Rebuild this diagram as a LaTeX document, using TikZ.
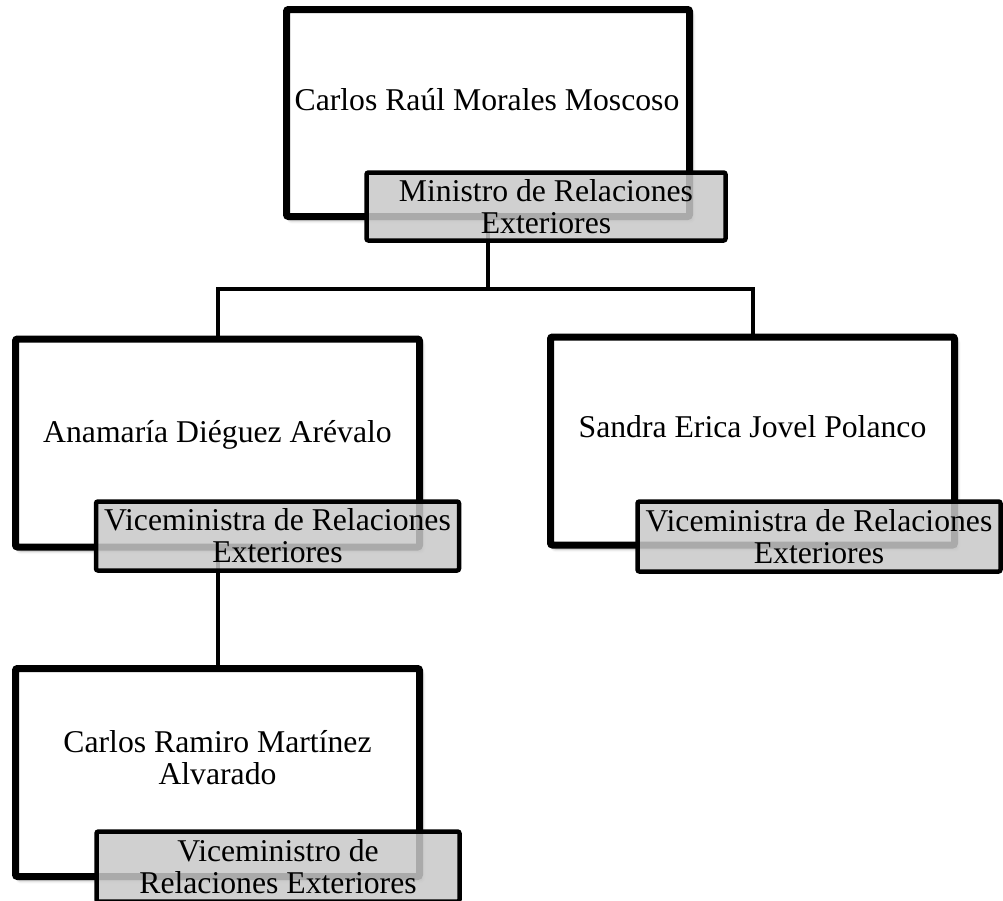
\documentclass[tikz,border=0pt]{standalone}
\usepackage{fontspec}
\setmainfont{Liberation Serif}
\usetikzlibrary{backgrounds,shadows.blur}
\definecolor{lblgray}{RGB}{200,200,200}
\begin{document}
\begin{tikzpicture}[x=1pt,y=-1pt,
  personbox/.style={draw=black, line width=7pt, fill=white, rounded corners=2pt,
    inner sep=0pt, minimum width=404pt, minimum height=208pt,
    blur shadow={shadow xshift=3pt, shadow yshift=-4pt, shadow blur radius=3pt, shadow opacity=35}},
  titlebox/.style={draw=black, line width=4.5pt, fill=lblgray, fill opacity=0.85, text opacity=1,
    rounded corners=2pt, inner sep=0pt, minimum width=363pt, minimum height=69pt,
    align=center, font=\fontsize{31.7}{32}\selectfont},
  nametext/.style={font=\fontsize{31.7}{32}\selectfont, align=center, inner sep=0pt},
  conn/.style={draw=black, line width=4pt}]
\useasboundingbox (0,0) rectangle (1003,900);
% person boxes
\node[personbox, minimum width=403pt, minimum height=207pt] (top) at (488,113) {};
\node[personbox] (left) at (217.5,443) {};
\node[personbox] (right) at (752.5,441) {};
\node[personbox] (bottom) at (217.5,772.5) {};
% names
\node[nametext, anchor=base] (ntop) at (487,110) {Carlos Raúl Morales Moscoso};
\node[nametext, anchor=base] (nleft) at (217.5,442) {Anamaría Diéguez Arévalo};
\node[nametext, anchor=base] (nright) at (752.5,437) {Sandra Erica Jovel Polanco};
\node[nametext] (nbottom) at (217.5,758) {Carlos Ramiro Martínez\\Alvarado};
% titles
\node[titlebox, minimum width=359pt, minimum height=68pt] (ttop) at (546,206.5) {Ministro de Relaciones\\Exteriores};
\node[titlebox] (tleft) at (277.5,536) {Viceministra de Relaciones\\Exteriores};
\node[titlebox, minimum height=70pt] (tright) at (819,536.5) {Viceministra de Relaciones\\Exteriores};
\node[titlebox, minimum height=70pt] (tbottom) at (278,866.5) {Viceministro de\\Relaciones Exteriores};
% connectors
\coordinate (bus) at (488,289);
\begin{scope}[on background layer]
\draw[conn] (top.south) -- (bus) -| (left.north);
\draw[conn] (bus) -| (right.north);
\draw[conn] (left.south) -- (bottom.north);
\end{scope}
\end{tikzpicture}
\end{document}
